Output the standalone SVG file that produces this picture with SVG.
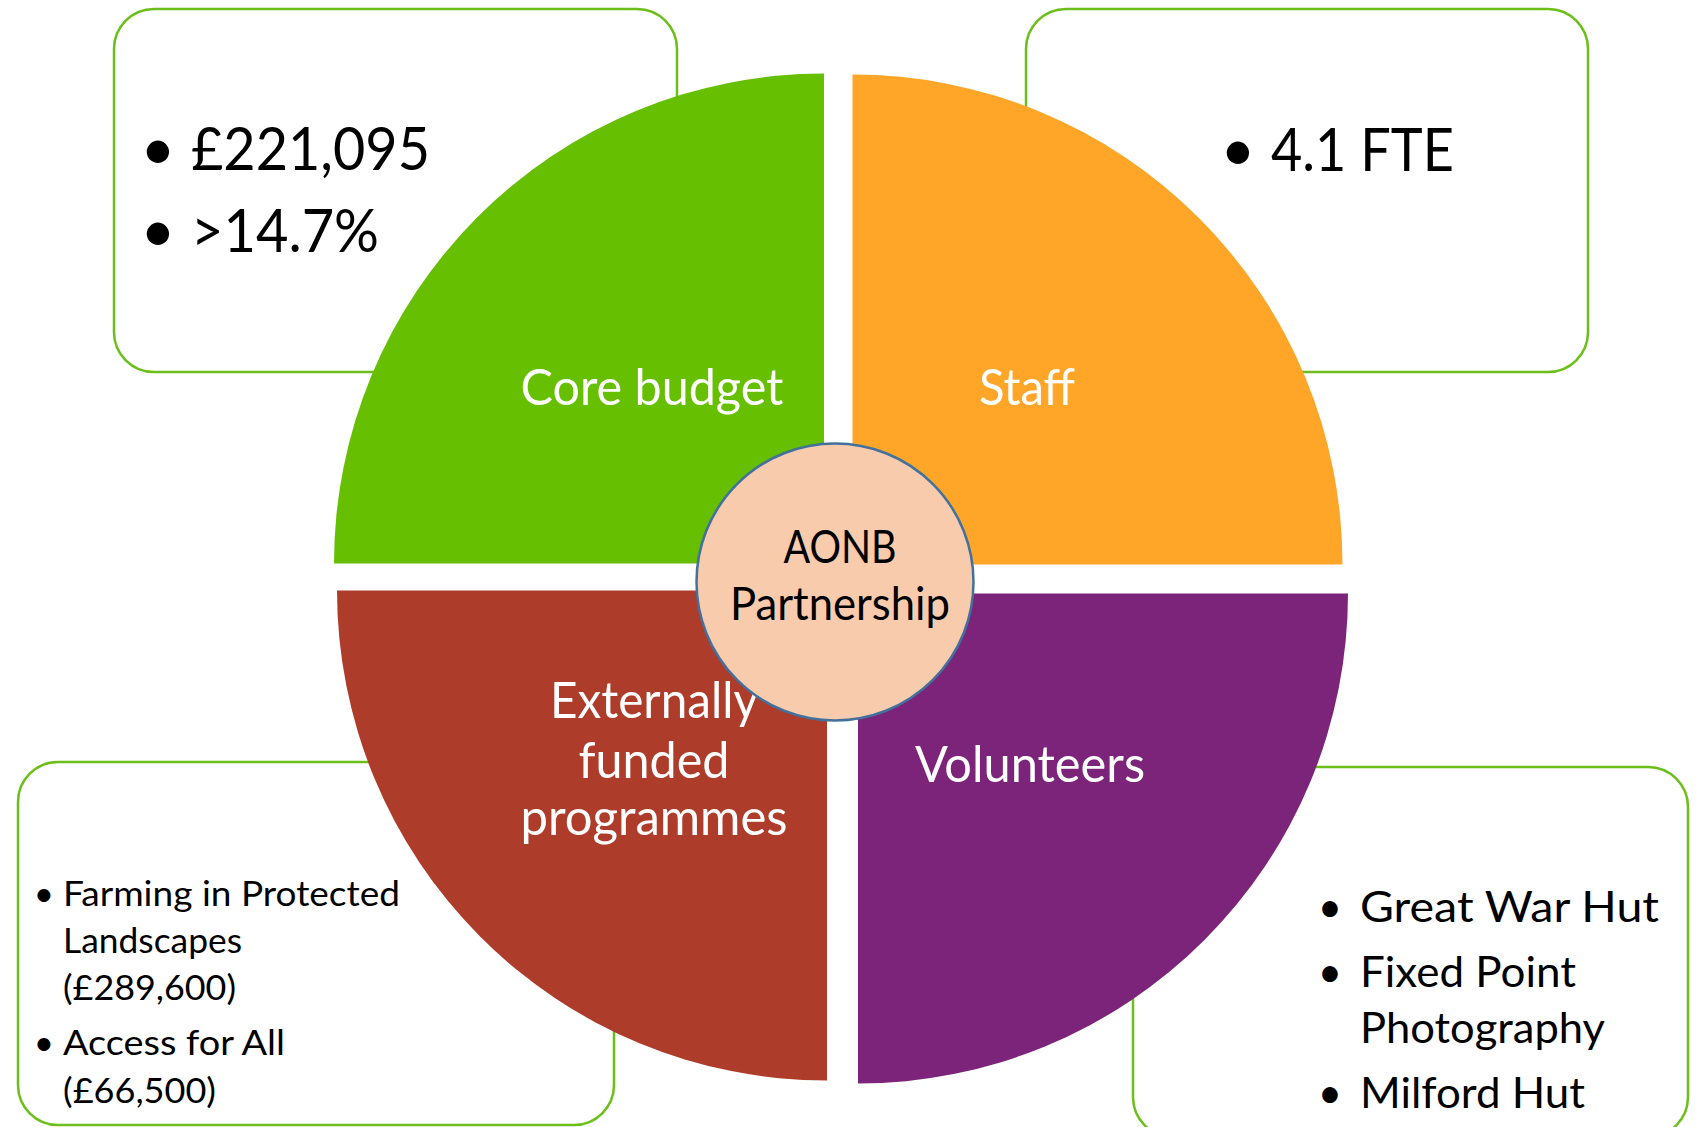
<svg xmlns="http://www.w3.org/2000/svg" width="1703" height="1127" viewBox="0 0 1703 1127">
<style>
.box{fill:#fff;stroke:#6CBF1A;stroke-width:2.5}
.cal{font-family:Lato,"Liberation Sans",sans-serif}
.gill{font-family:Lato,"Liberation Sans",sans-serif}
.lbl{fill:#fff;font-size:50px;text-anchor:middle}
.big{fill:#000;font-size:60px}
.sm{fill:#000;font-size:35px}
.md{fill:#000;font-size:42px}
</style>
<rect width="1703" height="1127" fill="#fff"/>
<g id="box-core-budget">
<rect class="box" x="114" y="9" width="563" height="363" rx="40"/>
<text class="cal big" x="158" y="170" text-anchor="middle">•</text>
<text class="cal big" x="191" y="170" textLength="239" lengthAdjust="spacingAndGlyphs">£221,095</text>
<text class="cal big" x="158" y="252" text-anchor="middle">•</text>
<text class="cal big" x="191" y="252" textLength="188" lengthAdjust="spacingAndGlyphs">&gt;14.7%</text>
</g>
<g id="box-staff">
<rect class="box" x="1026" y="9" width="562" height="363" rx="40"/>
<text class="cal big" x="1238" y="171" text-anchor="middle">•</text>
<text class="cal big" x="1271" y="171" textLength="183" lengthAdjust="spacingAndGlyphs">4.1 FTE</text>
</g>
<g id="box-external">
<rect class="box" x="18" y="762" width="596" height="363" rx="40"/>
<text class="gill sm" x="44" y="906" text-anchor="middle">•</text>
<text class="gill sm" x="63" y="906" textLength="337" lengthAdjust="spacingAndGlyphs">Farming in Protected</text>
<text class="gill sm" x="63" y="953" textLength="179" lengthAdjust="spacingAndGlyphs">Landscapes</text>
<text class="gill sm" x="63" y="1000" textLength="173" lengthAdjust="spacingAndGlyphs">(£289,600)</text>
<text class="gill sm" x="44" y="1055" text-anchor="middle">•</text>
<text class="gill sm" x="63" y="1055" textLength="222" lengthAdjust="spacingAndGlyphs">Access for All</text>
<text class="gill sm" x="63" y="1103" textLength="153" lengthAdjust="spacingAndGlyphs">(£66,500)</text>
</g>
<g id="box-volunteers">
<rect class="box" x="1133" y="767" width="555" height="370" rx="40"/>
<text class="gill md" x="1330" y="922" text-anchor="middle">•</text>
<text class="gill md" x="1360" y="922" textLength="299" lengthAdjust="spacingAndGlyphs">Great War Hut</text>
<text class="gill md" x="1330" y="987" text-anchor="middle">•</text>
<text class="gill md" x="1360" y="987" textLength="216" lengthAdjust="spacingAndGlyphs">Fixed Point</text>
<text class="gill md" x="1360" y="1043" textLength="245" lengthAdjust="spacingAndGlyphs">Photography</text>
<text class="gill md" x="1330" y="1108" text-anchor="middle">•</text>
<text class="gill md" x="1360" y="1108" textLength="225" lengthAdjust="spacingAndGlyphs">Milford Hut</text>
</g>
<g id="core-budget">
<path d="M824 563.5 L334 563.5 A490 490 0 0 1 824 73.5 Z" fill="#66BF00"/>
<text class="cal lbl" x="652" y="405" textLength="263" lengthAdjust="spacingAndGlyphs">Core budget</text>
</g>
<g id="staff">
<path d="M852.5 564.5 L852.5 74.5 A490 490 0 0 1 1342.5 564.5 Z" fill="#FFA629"/>
<text class="cal lbl" x="1027" y="405" textLength="96" lengthAdjust="spacingAndGlyphs">Staff</text>
</g>
<g id="externally-funded">
<path d="M827 590.5 L827 1080.5 A490 490 0 0 1 337 590.5 Z" fill="#AE3C2A"/>
<text class="cal lbl" x="654" y="718" textLength="208" lengthAdjust="spacingAndGlyphs">Externally</text>
<text class="cal lbl" x="654" y="778" textLength="151" lengthAdjust="spacingAndGlyphs">funded</text>
<text class="cal lbl" x="654" y="835" textLength="267" lengthAdjust="spacingAndGlyphs">programmes</text>
</g>
<g id="volunteers">
<path d="M858 593.5 L1348 593.5 A490 490 0 0 1 858 1083.5 Z" fill="#7C2479"/>
<text class="cal lbl" x="1030" y="782" textLength="230" lengthAdjust="spacingAndGlyphs">Volunteers</text>
</g>
<g id="aonb-partnership">
<circle cx="835" cy="582" r="138.5" fill="#F8CBAD" stroke="#41719C" stroke-width="2.5"/>
<text class="cal" x="840" y="563" font-size="46" text-anchor="middle" fill="#000" textLength="113" lengthAdjust="spacingAndGlyphs">AONB</text>
<text class="cal" x="840" y="620" font-size="46" text-anchor="middle" fill="#000" textLength="220" lengthAdjust="spacingAndGlyphs">Partnership</text>
</g>
<g id="connectors"/>
</svg>
